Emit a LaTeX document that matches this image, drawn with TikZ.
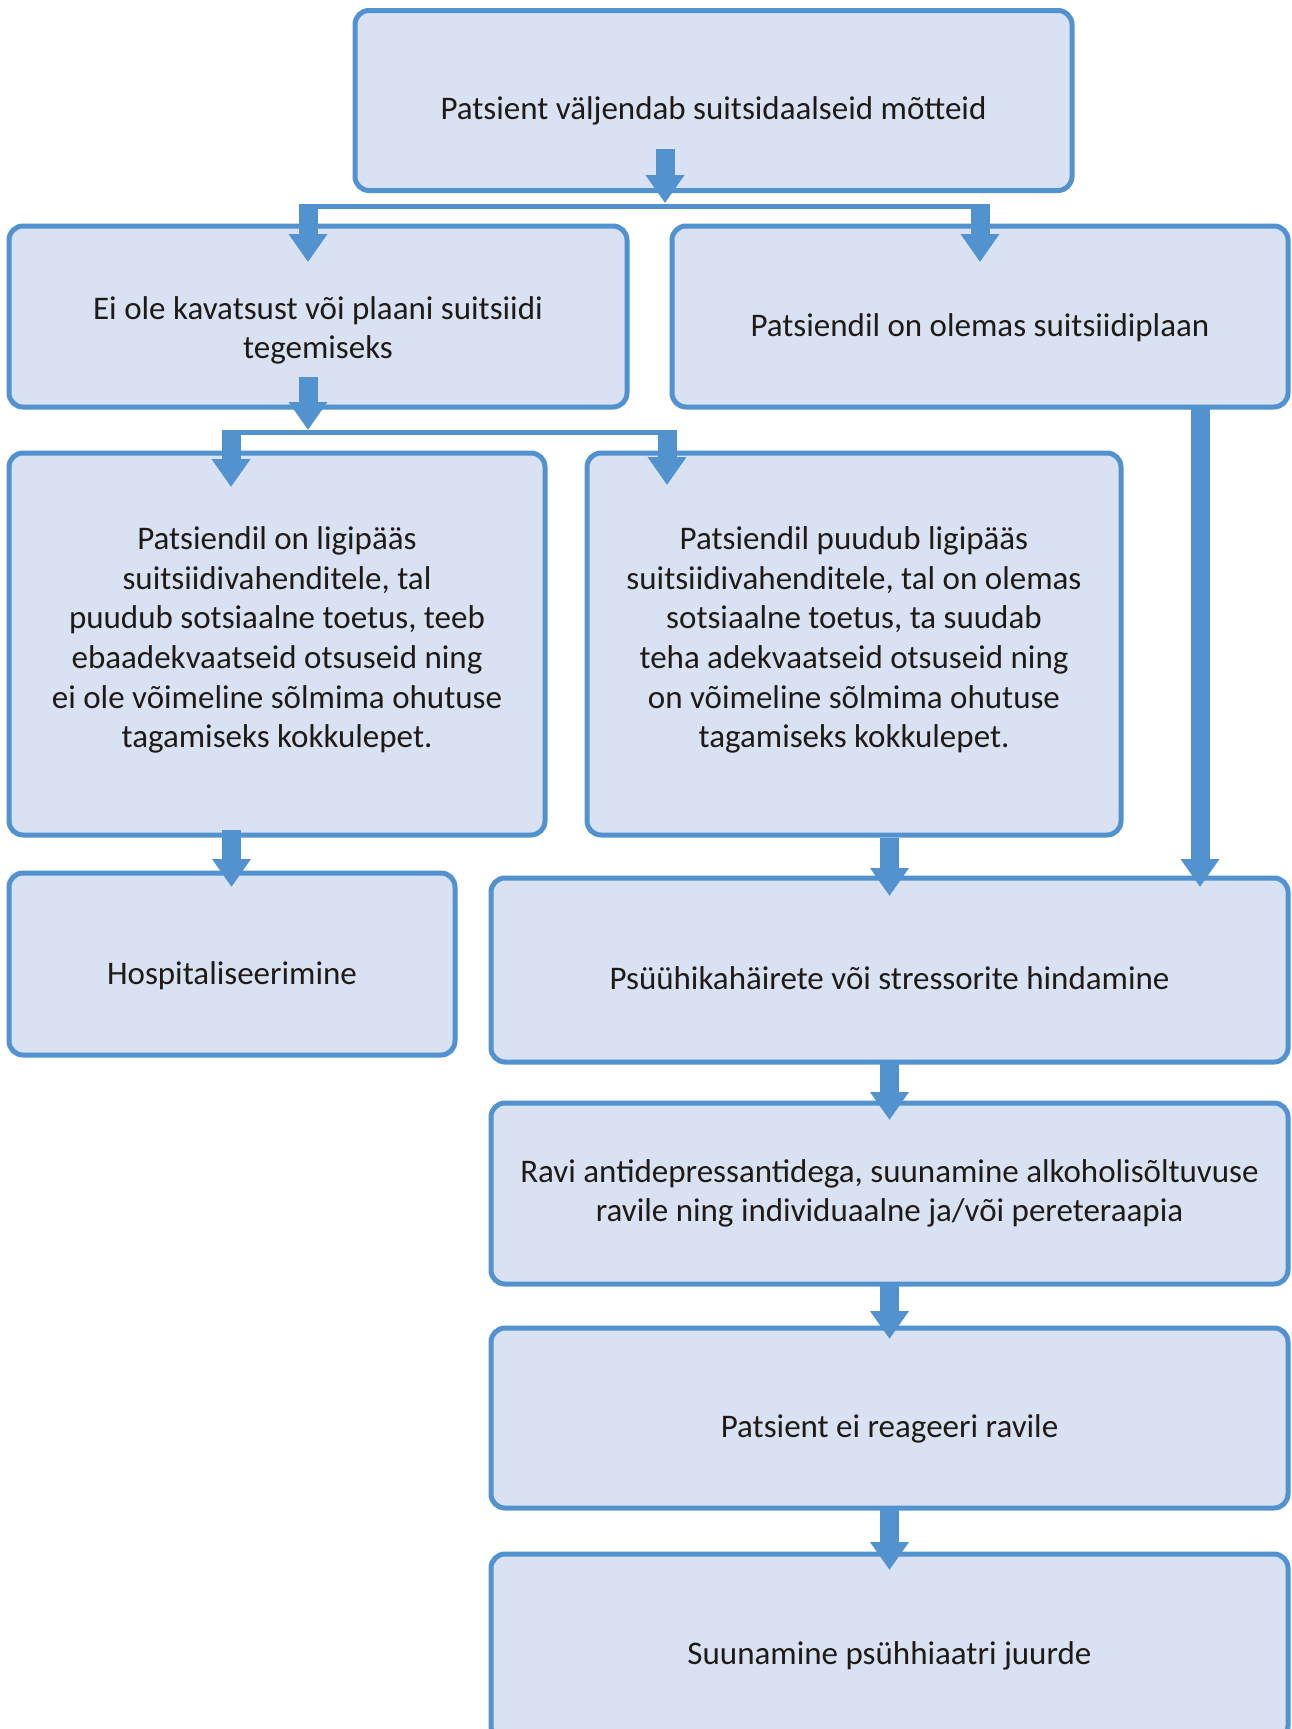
\documentclass[tikz,border=0pt]{standalone}
\usepackage{fontspec}
\setmainfont{Carlito}
\usetikzlibrary{arrows.meta,calc}
\definecolor{bord}{HTML}{5292CF}
\definecolor{boxfill}{HTML}{D9E2F3}
\definecolor{txtc}{HTML}{1F1A17}
\begin{document}
\begin{tikzpicture}[x=1pt,y=-1pt,
  box/.style={draw=bord, fill=boxfill, line width=5pt, rounded corners=14pt,
    outer sep=0pt, inner sep=0pt},
  txtn/.style={align=center, text=txtc, inner sep=0pt,
    font=\fontsize{33}{39.6}\selectfont},
  barrow/.style={draw=bord, line width=19pt, -{Triangle[width=37pt,length=28pt]}},
  bar/.style={draw=bord, line width=5pt}]
\useasboundingbox (0,0) rectangle (1292,1729);
\clip (0,0) rectangle (1292,1729);
\fill[white] (0,0) rectangle (1292,1729);

% boxes
\node[box, minimum width=717pt, minimum height=180pt] (top) at (713.5,100.5) {};
\node[box, minimum width=618pt, minimum height=181pt] (l2) at (318,316.5) {};
\node[box, minimum width=616pt, minimum height=181pt] (r2) at (980,316.5) {};
\node[box, minimum width=536pt, minimum height=382pt] (l3) at (277,644) {};
\node[box, minimum width=534pt, minimum height=382pt] (m3) at (854,644) {};
\node[box, minimum width=446pt, minimum height=182pt] (hosp) at (232,964) {};
\node[box, minimum width=797pt, minimum height=184pt] (psy) at (889.5,970) {};
\node[box, minimum width=797pt, minimum height=181pt] (ravi) at (889.5,1193.5) {};
\node[box, minimum width=797pt, minimum height=180pt] (reag) at (889.5,1418) {};
\node[box, minimum width=797pt, minimum height=186pt] (suun) at (889.5,1647) {};

% texts
\node[txtn] (topt) at ($(top.center)+(0,10)$) {Patsient väljendab suitsidaalseid mõtteid};
\node[txtn] (l2t) at ($(l2.center)+(0,14)$) {Ei ole kavatsust või plaani suitsiidi\\tegemiseks};
\node[txtn] (r2t) at ($(r2.center)+(0,11)$) {Patsiendil on olemas suitsiidiplaan};
\node[txtn] (l3t) at ($(l3.center)+(0,-4)$) {Patsiendil on ligipääs\\suitsiidivahenditele, tal\\puudub sotsiaalne toetus, teeb\\ebaadekvaatseid otsuseid ning\\ei ole võimeline sõlmima ohutuse\\tagamiseks kokkulepet.};
\node[txtn] (m3t) at ($(m3.center)+(0,-4)$) {Patsiendil puudub ligipääs\\suitsiidivahenditele, tal on olemas\\sotsiaalne toetus, ta suudab\\teha adekvaatseid otsuseid ning\\on võimeline sõlmima ohutuse\\tagamiseks kokkulepet.};
\node[txtn] (hospt) at ($(hosp.center)+(0,12)$) {Hospitaliseerimine};
\node[txtn] (psyt) at ($(psy.center)+(0,8)$) {Psüühikahäirete või stressorite hindamine};
\node[txtn] (ravit) at ($(ravi.center)+(0,0)$) {Ravi antidepressantidega, suunamine alkoholisõltuvuse\\ravile ning individuaalne ja/või pereteraapia};
\node[txtn] (reagt) at ($(reag.center)+(0,11)$) {Patsient ei reageeri ravile};
\node[txtn] (suunt) at ($(suun.center)+(0,9)$) {Suunamine psühhiaatri juurde};

% top split
\draw[barrow] ($(top.south)+(-48.5,-41.6)$) -- ($(top.south)+(-48.5,12.6)$);
\draw[bar] ($(l2.north)+(-19.5,-19.5)$) -- ($(r2.north)+(9.5,-19.5)$);
\draw[barrow] ($(l2.north)+(-10,-22)$) -- ($(l2.north)+(-10,36)$);
\draw[barrow] ($(r2.north)+(0,-22)$) -- ($(r2.north)+(0,36)$);

% second split
\draw[barrow] ($(l2.south)+(-10,-30)$) -- ($(l2.south)+(-10,23)$);
\draw[bar] ($(l3.north)+(-55.5,-20.5)$) -- ($(m3.north)+(-177.5,-20.5)$);
\draw[barrow] ($(l3.north)+(-46,-23)$) -- ($(l3.north)+(-46,34)$);
\draw[barrow] ($(m3.north)+(-187,-23)$) -- ($(m3.north)+(-187,32)$);

% lower arrows
\draw[barrow] ($(l3.south -| hosp.north)+(-0.5,-5)$) -- ($(hosp.north)+(-0.5,14)$);
\draw[barrow] ($(m3.south -| psy.north)+(0,3)$) -- ($(psy.north)+(0,18)$);
\coordinate (a7) at ($(r2.south)+(220,0)$);
\draw[barrow] (a7) -- ($(a7 |- psy.north)+(0,9)$);
\draw[barrow] ($(psy.south)+(0,1)$) -- ($(ravi.north)+(0,17)$);
\draw[barrow] ($(ravi.south)+(0,-1)$) -- ($(reag.north)+(0,11)$);
\draw[barrow] ($(reag.south)+(0,2)$) -- ($(suun.north)+(0,16)$);
\end{tikzpicture}
\end{document}
